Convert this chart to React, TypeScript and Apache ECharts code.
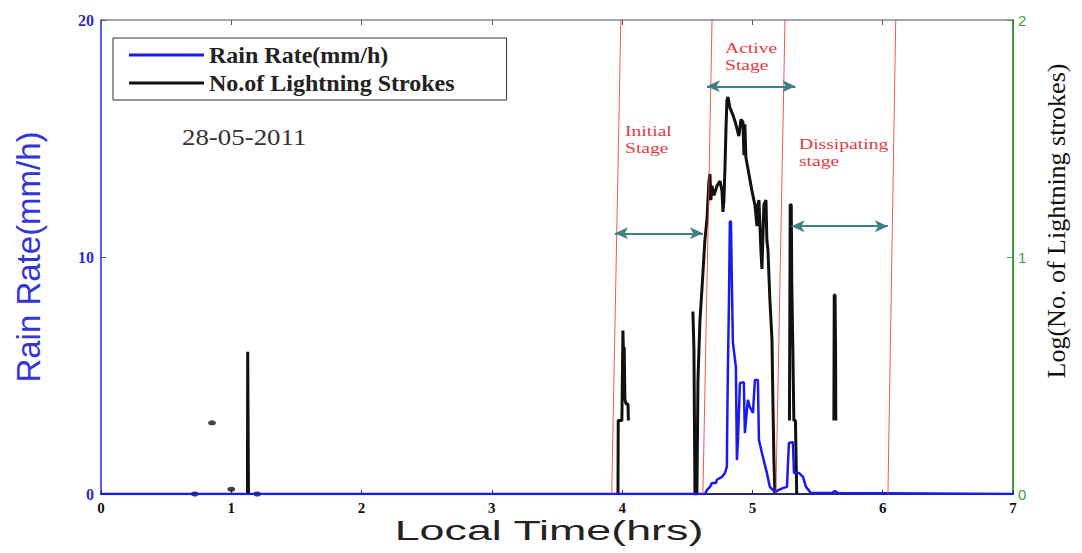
import React, { useEffect, useRef } from "react";
import * as echarts from "echarts";

const rainName = "Rain Rate(mm/h)";
const strokeName = "No.of Lightning Strokes";

const xTicks = [0, 1, 2, 3, 4, 5, 6, 7];

// Rain rate (mm/h) vs local time (hrs)
const rainRate: [number, number][] = [
  [0, 0], [4.636, 0], [4.651, 0.17], [4.674, 0.3], [4.689, 0.46], [4.72, 0.46],
  [4.727, 0.6], [4.766, 0.72], [4.789, 0.89], [4.804, 1.14], [4.806, 2.7],
  [4.812, 5.36], [4.82, 8.2], [4.827, 11.5], [4.835, 11.5], [4.842, 9.0],
  [4.85, 6.4], [4.873, 5.36], [4.881, 1.43], [4.889, 2.28], [4.904, 4.68],
  [4.934, 4.72], [4.942, 2.57], [4.965, 3.97], [4.98, 3.67], [5.004, 3.42],
  [5.019, 4.81], [5.042, 4.81], [5.05, 2.28], [5.073, 1.73], [5.096, 1.22],
  [5.111, 0.89], [5.134, 0.3], [5.173, 0.08], [5.203, 0.17], [5.234, 0.25],
  [5.265, 0.3], [5.28, 2.15], [5.311, 2.19], [5.319, 0.89], [5.357, 0.89],
  [5.388, 0.72], [5.411, 0.3], [5.449, 0.04], [5.61, 0.04], [5.633, 0.13],
  [5.656, 0.04], [7, 0],
];

// log10(number of lightning strokes); null = no strokes (gap)
const lightningLog: ([number, number] | null)[] = [
  [1.124, 0], [1.126, 0.6], [1.13, 0.6], [1.132, 0], null,
  [3.968, 0], [3.97, 0.31], [3.998, 0.31], [4.006, 0.69], [4.012, 0.55],
  [4.016, 0.62], [4.021, 0.4], [4.03, 0.38], [4.045, 0.38], [4.048, 0.31], null,
  [4.543, 0.77], [4.551, 0.61], [4.559, 0], [4.574, 0], [4.582, 0.48],
  [4.597, 0.73], [4.612, 0.86], [4.635, 1.07], [4.651, 1.16], [4.666, 1.32],
  [4.674, 1.35], [4.681, 1.24], [4.689, 1.3], [4.705, 1.26], [4.728, 1.3],
  [4.751, 1.32], [4.766, 1.28], [4.774, 1.19], [4.781, 1.24], [4.789, 1.37],
  [4.797, 1.54], [4.804, 1.66], [4.812, 1.675], [4.827, 1.63], [4.85, 1.6],
  [4.873, 1.56], [4.896, 1.51], [4.912, 1.58], [4.927, 1.57], [4.935, 1.43],
  [4.942, 1.56], [4.95, 1.42], [4.973, 1.35], [4.996, 1.28], [5.019, 1.22],
  [5.035, 1.13], [5.042, 1.22], [5.05, 1.24], [5.065, 1.03], [5.073, 0.95],
  [5.088, 1.22], [5.104, 1.24], [5.111, 1.07], [5.119, 1.03], [5.134, 0.82],
  [5.15, 0.65], [5.157, 0.4], [5.165, 0.14], [5.173, 0], null,
  [5.284, 0.31], [5.29, 1.22], [5.298, 1.22], [5.302, 0.89], [5.31, 0.62],
  [5.318, 0.31], [5.33, 0.31], [5.34, 0], null,
  [5.625, 0.31], [5.628, 0.84], [5.634, 0.84], [5.638, 0.62], [5.64, 0.31], null,
];

// isolated single readings
const lightningIsolated: [number, number][] = [
  [0.852, 0.3], [0.72, 0], [1.0, 0.02], [1.2, 0],
];

// stage boundaries (slanted red lines): time at bottom / at top
const boundaryBottom = [3.92, 4.62, 5.18, 6.04];
const boundaryTop = [3.99, 4.69, 5.25, 6.1];

// stage arrows
const arrowStart = [3.945, 4.65, 5.3];
const arrowEnd = [4.62, 5.33, 6.04];
const arrowLevel = [11.0, 17.2, 11.3];

const stageLabels = ["Initial\nStage", "Active\nStage", "Dissipating\nstage"];
const dateLabel = "28-05-2011";

export default function App() {
  const ref = useRef<HTMLDivElement>(null);

  useEffect(() => {
    if (!ref.current) return;
    const chart = echarts.init(ref.current, null, { renderer: "svg" });

    const serif = '"Liberation Serif", "Times New Roman", serif';
    const sans = '"Liberation Sans", Arial, sans-serif';
    const red = "#e8393d";

    const boundaryLines = boundaryBottom.map((b, i) => [
      { coord: [b, 0] },
      { coord: [boundaryTop[i], 20] },
    ]);
    const arrowLines = arrowStart.map((s, i) => [
      { coord: [s, arrowLevel[i]] },
      { coord: [arrowEnd[i], arrowLevel[i]] },
    ]);

    const stagePos = [
      [625, 123],
      [725, 40],
      [799, 136],
    ];

    const option: any = {
      animation: false,
      grid: { left: 101, right: 69, top: 20, bottom: 59 },
      legend: {
        data: [
          { name: rainName, icon: "rect" },
          { name: strokeName, icon: "rect" },
        ],
        orient: "vertical",
        left: 113,
        top: 38,
        itemWidth: 75,
        itemHeight: 3,
        itemGap: 4,
        padding: [5, 52, 5, 16],
        borderColor: "#333",
        borderWidth: 1,
        textStyle: {
          fontFamily: serif,
          fontWeight: "bold",
          fontSize: 24,
          color: "#222",
        },
      },
      xAxis: [
        {
          type: "value",
          min: 0,
          max: 7,
          interval: 1,
          position: "bottom",
          axisLine: { onZero: false, lineStyle: { color: "#2b2b6b", width: 2 } },
          axisTick: { inside: true, length: 4, lineStyle: { color: "#333" } },
          axisLabel: {
            fontFamily: serif,
            fontWeight: "bold",
            fontSize: 15,
            color: "#111",
            margin: 6,
            formatter: (v: number) => (xTicks.includes(v) ? String(v) : ""),
          },
          splitLine: { show: false },
        },
        {
          type: "value",
          min: 0,
          max: 7,
          interval: 1,
          position: "top",
          axisLine: { onZero: false, lineStyle: { color: "#888", width: 1.5 } },
          axisTick: { inside: true, length: 5, lineStyle: { color: "#555" } },
          axisLabel: { show: false },
          splitLine: { show: false },
        },
      ],
      yAxis: [
        {
          type: "value",
          min: 0,
          max: 20,
          interval: 10,
          position: "left",
          name: "Rain Rate(mm/h)",
          nameLocation: "middle",
          nameRotate: 90,
          nameGap: 56,
          nameTextStyle: { fontFamily: sans, fontSize: 33, color: "#3434d8" },
          axisLine: { show: true, onZero: false, lineStyle: { color: "#5a5ae8", width: 2 } },
          axisTick: { show: true, inside: true, length: 5, lineStyle: { color: "#555" } },
          axisLabel: {
            fontFamily: serif,
            fontWeight: "bold",
            fontSize: 16,
            color: "#2a2ad0",
            margin: 7,
          },
          splitLine: { show: false },
        },
        {
          type: "value",
          min: 0,
          max: 2,
          interval: 1,
          position: "right",
          name: "Log(No. of Lightning strokes)",
          nameLocation: "middle",
          nameRotate: 90,
          nameGap: 30,
          nameTextStyle: {
            fontFamily: serif,
            fontSize: 26,
            color: "#111",
            padding: [0, 0, 0, 72],
          },
          axisLine: { show: true, onZero: false, lineStyle: { color: "#3ca03c", width: 2 } },
          axisTick: { show: true, inside: true, length: 6, lineStyle: { color: "#3ca03c" } },
          axisLabel: { fontFamily: sans, fontSize: 15, color: "#3ca03c", margin: 5 },
          splitLine: { show: false },
        },
      ],
      series: [
        {
          name: "stages",
          type: "line",
          data: [],
          yAxisIndex: 0,
          silent: true,
          markLine: {
            silent: true,
            animation: false,
            symbol: ["none", "none"],
            label: { show: false },
            lineStyle: { color: red, width: 1, type: "solid", opacity: 0.85 },
            data: boundaryLines,
          },
        },
        {
          name: strokeName,
          type: "line",
          yAxisIndex: 1,
          data: lightningLog.map((p) => (p ? p : [null, null])),
          showSymbol: false,
          connectNulls: false,
          color: "#111",
          lineStyle: { color: "#111", width: 3 },
          emphasis: { disabled: true },
        },
        {
          name: "isolated",
          type: "scatter",
          yAxisIndex: 1,
          data: lightningIsolated,
          symbol: "circle",
          symbolSize: [8, 5],
          itemStyle: { color: "#111" },
          silent: true,
        },
        {
          name: rainName,
          type: "line",
          yAxisIndex: 0,
          data: rainRate,
          showSymbol: false,
          color: "#1a1aee",
          lineStyle: { color: "#1a1aee", width: 2.5 },
          emphasis: { disabled: true },
        },
        {
          name: "arrows",
          type: "line",
          data: [],
          yAxisIndex: 0,
          silent: true,
          markLine: {
            silent: true,
            animation: false,
            symbol: ["arrow", "arrow"],
            symbolSize: [9, 13],
            label: { show: false },
            lineStyle: { color: "#3f7f86", width: 2, type: "solid" },
            data: arrowLines,
          },
        },
      ],
      graphic: [
        {
          type: "text",
          x: 549,
          y: 531,
          scaleX: 1.66,
          style: {
            text: "Local Time(hrs)",
            font: `27px ${sans}`,
            fill: "#222",
            textAlign: "center",
            textVerticalAlign: "middle",
          },
        },
        {
          type: "text",
          x: 182,
          y: 137,
          scaleX: 1.12,
          style: {
            text: dateLabel,
            font: `24px ${serif}`,
            fill: "#333",
            textAlign: "left",
            textVerticalAlign: "middle",
          },
        },
        ...stageLabels.map((t, i) => ({
          type: "text",
          x: stagePos[i][0],
          y: stagePos[i][1],
          scaleX: 1.4,
          style: {
            text: t,
            font: `14px ${serif}`,
            fill: red,
            lineHeight: 17,
            textAlign: "left",
            textVerticalAlign: "top",
          },
        })),
      ],
    };

    chart.setOption(option);
    return () => chart.dispose();
  }, []);

  return (
    <div
      ref={ref}
      style={{ position: "absolute", left: 0, top: 0, width: 1082, height: 553, background: "#fff" }}
    />
  );
}
